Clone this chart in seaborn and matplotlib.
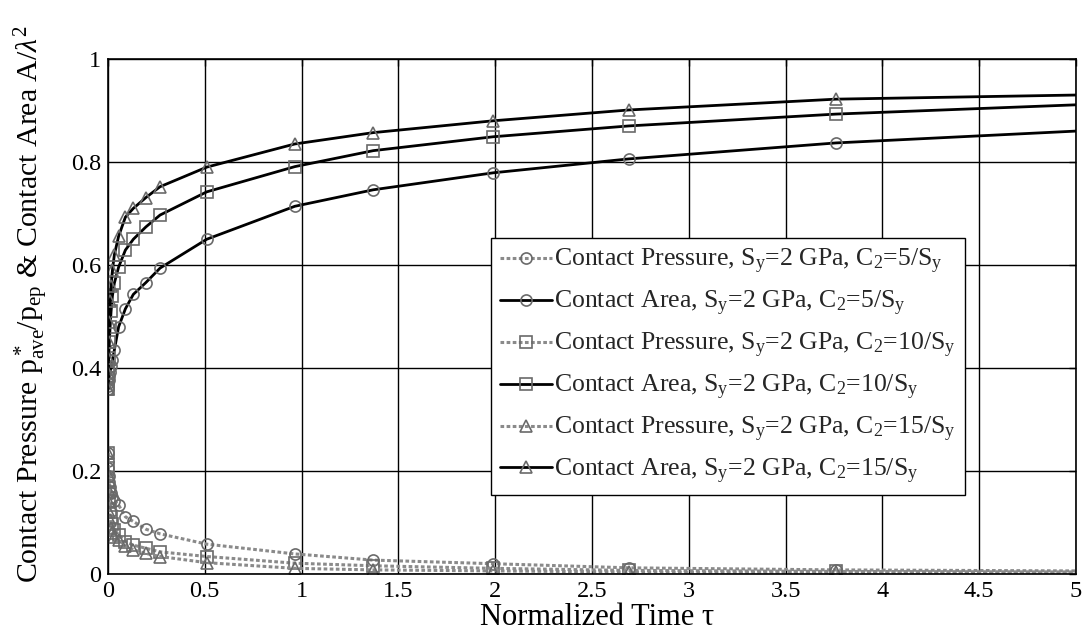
import matplotlib
matplotlib.use("Agg")
import matplotlib.pyplot as plt
import seaborn as sns
import numpy as np
import pandas as pd

# ---- data ----
tau = [0, 0.001, 0.002, 0.004, 0.007, 0.011, 0.016, 0.023, 0.033, 0.055, 0.09,
       0.131, 0.196, 0.269, 0.51, 0.965, 1.37, 1.99, 2.69, 3.76, 5.0]

area_c5 = [0.36, 0.365, 0.37, 0.377, 0.385, 0.393, 0.403, 0.415, 0.435, 0.48, 0.515,
           0.543, 0.566, 0.594, 0.650, 0.714, 0.746, 0.779, 0.806, 0.837, 0.860]
area_c10 = [0.36, 0.38, 0.40, 0.42, 0.45, 0.48, 0.51, 0.54, 0.565, 0.596, 0.629,
            0.650, 0.674, 0.697, 0.742, 0.791, 0.822, 0.849, 0.870, 0.893, 0.911]
area_c15 = [0.36, 0.39, 0.42, 0.45, 0.49, 0.53, 0.56, 0.59, 0.62, 0.656, 0.693,
            0.710, 0.731, 0.752, 0.790, 0.835, 0.857, 0.880, 0.901, 0.922, 0.930]

pres_c5 = [0.235, 0.22, 0.205, 0.19, 0.178, 0.168, 0.158, 0.15, 0.142, 0.134, 0.111,
           0.102, 0.087, 0.078, 0.058, 0.039, 0.027, 0.020, 0.012, 0.008, 0.006]
pres_c10 = [0.235, 0.205, 0.18, 0.16, 0.142, 0.125, 0.11, 0.097, 0.086, 0.076, 0.063,
            0.056, 0.050, 0.043, 0.034, 0.021, 0.016, 0.011, 0.007, 0.005, 0.004]
pres_c15 = [0.235, 0.195, 0.165, 0.14, 0.12, 0.104, 0.09, 0.08, 0.072, 0.066, 0.055,
            0.047, 0.040, 0.034, 0.022, 0.011, 0.008, 0.006, 0.004, 0.003, 0.002]

labels = [
    r'Contact Pressure, S$_{\rm y}$=2 GPa, C$_{\rm 2}$=5/S$_{\rm y}$',
    r'Contact Area, S$_{\rm y}$=2 GPa, C$_{\rm 2}$=5/S$_{\rm y}$',
    r'Contact Pressure, S$_{\rm y}$=2 GPa, C$_{\rm 2}$=10/S$_{\rm y}$',
    r'Contact Area, S$_{\rm y}$=2 GPa, C$_{\rm 2}$=10/S$_{\rm y}$',
    r'Contact Pressure, S$_{\rm y}$=2 GPa, C$_{\rm 2}$=15/S$_{\rm y}$',
    r'Contact Area, S$_{\rm y}$=2 GPa, C$_{\rm 2}$=15/S$_{\rm y}$',
]
series = [pres_c5, area_c5, pres_c10, area_c10, pres_c15, area_c15]
markers = ['o', 'o', 's', 's', '^', '^']
kinds = ['p', 'a', 'p', 'a', 'p', 'a']

xticks = [0, 0.5, 1, 1.5, 2, 2.5, 3, 3.5, 4, 4.5, 5]
xticklabels = ['0', '0.5', '1', '1.5', '2', '2.5', '3', '3.5', '4', '4.5', '5']
yticks = [0, 0.2, 0.4, 0.6, 0.8, 1.0]
yticklabels = ['0', '0.2', '0.4', '0.6', '0.8', '1']

# ---- style ----
sns.set_theme(style="white")
plt.rcParams['font.family'] = ['Liberation Serif', 'DejaVu Serif']
plt.rcParams['mathtext.fontset'] = 'custom'
plt.rcParams['mathtext.rm'] = 'Liberation Serif'
plt.rcParams['mathtext.it'] = 'Liberation Serif:italic'

fig = plt.figure(figsize=(10.82, 6.39), dpi=100)
ax = fig.add_axes([0.0998, 0.1017, 0.8947, 0.806])

n = len(tau)
mk_idx = list(range(n - 1))
for vals, lab, m, k in zip(series, labels, markers, kinds):
    df = pd.DataFrame({'tau': tau, 'v': vals})
    if k == 'p':
        sns.lineplot(data=df, x='tau', y='v', ax=ax, color='#8a8a8a',
                     linestyle=(0, (1.2, 0.8)), linewidth=2.2, marker=m,
                     markersize=8, markerfacecolor='none', markeredgecolor='#6a6a6a',
                     markeredgewidth=1.2, markevery=mk_idx, label=lab, sort=False,
                     estimator=None)
    else:
        sns.lineplot(data=df, x='tau', y='v', ax=ax, color='black',
                     linestyle='-', linewidth=2.0, marker=m,
                     markersize=8, markerfacecolor='none', markeredgecolor='#6a6a6a',
                     markeredgewidth=1.2, markevery=mk_idx, label=lab, sort=False,
                     estimator=None)

ax.set_xlim(0, 5)
ax.set_ylim(0, 1)
ax.set_xticks(xticks)
ax.set_xticklabels(xticklabels)
ax.set_yticks(yticks)
ax.set_yticklabels(yticklabels)
ax.tick_params(direction='in', length=5, width=1, colors='black', labelsize=17.5,
               top=True, right=True, pad=5)
ax.grid(True, color='black', linewidth=1.0, linestyle='-')
ax.set_axisbelow(True)
for s in ax.spines.values():
    s.set_color('black')
    s.set_linewidth(1.2)

ax.set_xlabel('Normalized Time τ', fontsize=22, color='black')
ax.set_ylabel(r'Contact Pressure p$_{\rm ave}^{\rm *}$/p$_{\rm ep}$ & Contact Area A/$\lambda^{\rm 2}$',
              fontsize=21.5, color='black')
ax.xaxis.set_label_coords(0.505, -0.056)
ax.yaxis.set_label_coords(-0.059, 0.525)

leg = ax.legend(loc='upper left', bbox_to_anchor=(0.396, 0.652), fontsize=18.5,
                frameon=True, fancybox=False, framealpha=1, edgecolor='black',
                borderpad=0.35, labelspacing=0.5, handlelength=2.0, handletextpad=0.1,
                borderaxespad=0)
leg.get_frame().set_linewidth(1.0)

fig.savefig('out.png', dpi=100)
